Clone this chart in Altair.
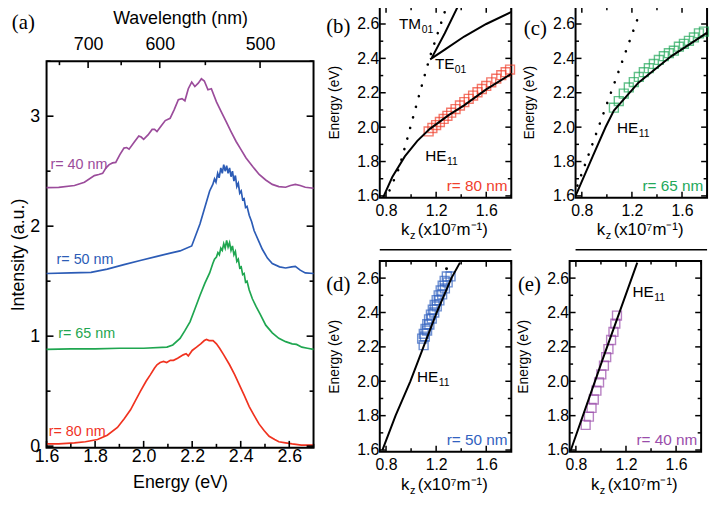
import altair as alt
import pandas as pd

HC = 1239.84  # eV*nm, converts energy to wavelength for the top axis
FONT = "Liberation Sans"
SERIF = "Liberation Serif"

# ---------------- panel (a): PL spectra (energy eV, intensity a.u.) ----------------
SPEC_40 = [(1.600, 2.350), (1.650, 2.352), (1.715, 2.370), (1.756, 2.400), (1.797, 2.460), (1.815, 2.470),
           (1.831, 2.480), (1.845, 2.530), (1.858, 2.560), (1.872, 2.575), (1.885, 2.580), (1.902, 2.650),
           (1.919, 2.710), (1.930, 2.715), (1.940, 2.700), (1.960, 2.760), (1.980, 2.820), (1.990, 2.810),
           (2.000, 2.790), (2.018, 2.830), (2.035, 2.880), (2.045, 2.880), (2.055, 2.860), (2.072, 2.910),
           (2.089, 2.960), (2.109, 2.980), (2.126, 3.060), (2.143, 3.150), (2.158, 3.160), (2.170, 3.140),
           (2.184, 3.250), (2.198, 3.310), (2.211, 3.270), (2.225, 3.300), (2.238, 3.340), (2.250, 3.320),
           (2.265, 3.240), (2.279, 3.250), (2.300, 3.130), (2.320, 3.040), (2.340, 2.950), (2.360, 2.860),
           (2.381, 2.770), (2.400, 2.700), (2.422, 2.620), (2.450, 2.540), (2.476, 2.470), (2.503, 2.420),
           (2.530, 2.380), (2.557, 2.360), (2.585, 2.354), (2.605, 2.370), (2.625, 2.380), (2.645, 2.370),
           (2.666, 2.354), (2.700, 2.345)]
SPEC_50 = [(1.600, 1.570), (1.700, 1.575), (1.783, 1.580), (1.850, 1.610), (1.919, 1.650), (1.990, 1.690),
           (2.055, 1.725), (2.110, 1.755), (2.150, 1.775), (2.198, 1.820), (2.215, 1.920), (2.232, 2.020),
           (2.252, 2.170), (2.272, 2.320), (2.285, 2.380), (2.292, 2.430), (2.298, 2.400), (2.305, 2.480),
           (2.311, 2.440), (2.318, 2.530), (2.324, 2.480), (2.330, 2.560), (2.336, 2.500), (2.342, 2.550),
           (2.348, 2.480), (2.354, 2.530), (2.360, 2.450), (2.366, 2.500), (2.372, 2.410), (2.378, 2.460),
           (2.384, 2.360), (2.390, 2.390), (2.396, 2.300), (2.402, 2.320), (2.408, 2.240), (2.414, 2.250),
           (2.420, 2.170), (2.426, 2.180), (2.435, 2.100), (2.445, 2.040), (2.455, 1.960), (2.463, 1.920),
           (2.475, 1.860), (2.489, 1.790), (2.510, 1.710), (2.530, 1.660), (2.560, 1.630), (2.585, 1.620),
           (2.610, 1.630), (2.625, 1.635), (2.645, 1.600), (2.666, 1.575), (2.700, 1.570)]
SPEC_65 = [(1.600, 0.880), (1.700, 0.885), (1.800, 0.885), (1.900, 0.890), (2.000, 0.890), (2.096, 0.900),
           (2.120, 0.920), (2.150, 0.980), (2.170, 1.050), (2.191, 1.130), (2.210, 1.240), (2.232, 1.370),
           (2.252, 1.480), (2.272, 1.575), (2.285, 1.660), (2.292, 1.700), (2.300, 1.720), (2.306, 1.760),
           (2.312, 1.740), (2.318, 1.800), (2.324, 1.780), (2.330, 1.840), (2.336, 1.800), (2.342, 1.870),
           (2.348, 1.810), (2.354, 1.850), (2.360, 1.780), (2.366, 1.820), (2.372, 1.740), (2.378, 1.770),
           (2.384, 1.680), (2.390, 1.700), (2.396, 1.620), (2.402, 1.630), (2.408, 1.560), (2.414, 1.570),
           (2.420, 1.490), (2.426, 1.500), (2.435, 1.420), (2.448, 1.340), (2.463, 1.270), (2.480, 1.200),
           (2.503, 1.100), (2.530, 1.030), (2.557, 0.980), (2.585, 0.950), (2.612, 0.930), (2.630, 0.925),
           (2.652, 0.900), (2.675, 0.890), (2.700, 0.880)]
SPEC_80 = [(1.600, 0.020), (1.650, 0.020), (1.715, 0.030), (1.760, 0.040), (1.810, 0.060), (1.850, 0.100),
           (1.892, 0.170), (1.920, 0.250), (1.946, 0.330), (1.965, 0.410), (1.987, 0.500), (2.010, 0.590),
           (2.028, 0.650), (2.045, 0.710), (2.055, 0.740), (2.068, 0.760), (2.082, 0.770), (2.095, 0.760),
           (2.110, 0.780), (2.123, 0.780), (2.140, 0.800), (2.155, 0.820), (2.163, 0.830), (2.175, 0.840),
           (2.184, 0.820), (2.200, 0.870), (2.218, 0.900), (2.235, 0.930), (2.250, 0.960), (2.259, 0.970),
           (2.270, 0.960), (2.286, 0.960), (2.300, 0.930), (2.313, 0.890), (2.330, 0.830), (2.354, 0.740),
           (2.375, 0.650), (2.394, 0.560), (2.415, 0.460), (2.435, 0.360), (2.455, 0.280), (2.476, 0.200),
           (2.497, 0.140), (2.517, 0.090), (2.540, 0.060), (2.557, 0.040), (2.585, 0.030), (2.612, 0.020),
           (2.650, 0.010), (2.700, 0.010)]

SERIES = ["r= 40 nm", "r= 50 nm", "r= 65 nm", "r= 80 nm"]
COLORS = ["#9b4c9b", "#2c5cb6", "#1fa650", "#f0321f"]
SPECTRA = [SPEC_40, SPEC_50, SPEC_65, SPEC_80]

A_LABEL_E = [1.616, 1.641, 1.648, 1.609]
A_LABEL_I = [2.552, 1.695, 1.022, 0.130]

A_X_DOMAIN = [1.6, 2.7]
A_Y_DOMAIN = [-0.015, 3.5]
A_X_MAJOR = [1.6, 1.8, 2.0, 2.2, 2.4, 2.6]
A_X_MINOR = [1.7, 1.9, 2.1, 2.3, 2.5, 2.7]
A_Y_MAJOR = [0, 1, 2, 3]
A_Y_MINOR = [0.5, 1.5, 2.5, 3.5]
WL_MAJOR = [700, 600, 500]
WL_MINOR = [750, 650, 550]
A_LETTER = (1.457, 3.85)

# ---------------- panels (b)-(e): dispersion (kz 1e7/m, energy eV) ----------------
S_X_DOMAIN = [0.75, 1.8]
S_Y_DOMAIN = [1.59, 2.70]
S_X_MAJOR = [0.8, 1.2, 1.6]
S_X_MINOR = [1.0, 1.4, 1.8]
S_Y_MAJOR = [1.6, 1.8, 2.0, 2.2, 2.4, 2.6]
S_Y_MINOR = [1.7, 1.9, 2.1, 2.3, 2.5, 2.7]

# (b) r = 80 nm
B_HE11 = [(0.776, 1.59), (0.85, 1.71), (0.95, 1.83), (1.05, 1.92), (1.15, 1.99), (1.30, 2.07),
          (1.42, 2.125), (1.60, 2.22), (1.80, 2.31)]
B_TE01 = [(1.152, 2.394), (1.269, 2.451), (1.424, 2.527), (1.60, 2.60), (1.80, 2.67)]
B_TM01 = [(1.165, 2.403), (1.269, 2.546), (1.372, 2.70)]
B_LIGHT = [(0.828, 1.632), (0.906, 1.766), (0.971, 1.937), (1.035, 2.109), (1.10, 2.28),
           (1.152, 2.413), (1.204, 2.527), (1.256, 2.642), (1.282, 2.70)]
B_SQ = [(1.14, 1.975), (1.17, 1.995), (1.20, 2.012), (1.23, 2.030), (1.26, 2.048), (1.29, 2.066),
        (1.32, 2.084), (1.355, 2.105), (1.39, 2.126), (1.425, 2.146), (1.46, 2.165), (1.495, 2.184),
        (1.53, 2.203), (1.565, 2.222), (1.60, 2.240), (1.64, 2.261), (1.68, 2.282), (1.72, 2.302),
        (1.755, 2.320), (1.79, 2.335)]
B_MODES = [("TM", "01", 0.903, 2.60, 23), ("TE", "01", 1.191, 2.365, 20), ("HE", "11", 1.113, 1.83, 22)]

# (c) r = 65 nm
C_HE11 = [(0.75, 1.60), (0.886, 1.829), (0.99, 2.001), (1.056, 2.097), (1.252, 2.259), (1.513, 2.412),
          (1.774, 2.537), (1.80, 2.55)]
C_LIGHT = [(0.765, 1.66), (1.27, 2.68)]
C_SQ = [(1.056, 2.113), (1.095, 2.152), (1.135, 2.195), (1.175, 2.231), (1.215, 2.262), (1.255, 2.292),
        (1.295, 2.320), (1.335, 2.343), (1.375, 2.368), (1.415, 2.391), (1.455, 2.413), (1.495, 2.430),
        (1.535, 2.445), (1.575, 2.468), (1.615, 2.485), (1.655, 2.502), (1.695, 2.522), (1.735, 2.546),
        (1.775, 2.556)]
C_MODES = [("HE", "11", 1.081, 1.997, 22)]

# (d) r = 50 nm
D_HE11 = [(0.771, 1.60), (0.876, 1.80), (0.994, 2.00), (1.099, 2.20), (1.204, 2.40), (1.322, 2.60),
          (1.39, 2.69)]
D_SQ = [(1.100, 2.21), (1.088, 2.248), (1.101, 2.276), (1.115, 2.304), (1.129, 2.332), (1.143, 2.36),
        (1.158, 2.388), (1.173, 2.416), (1.188, 2.444), (1.204, 2.472), (1.220, 2.50), (1.236, 2.528),
        (1.252, 2.556), (1.268, 2.584), (1.285, 2.61), (1.110, 2.26), (1.128, 2.295), (1.146, 2.33),
        (1.165, 2.365), (1.185, 2.40), (1.205, 2.435), (1.226, 2.47), (1.248, 2.505), (1.270, 2.54),
        (1.292, 2.575), (1.315, 2.61)]
D_DOT = [(1.283, 2.655)]
D_MODES = [("HE", "11", 1.047, 2.025, 22)]

# (e) r = 40 nm
E_HE11 = [(0.755, 1.59), (1.02, 2.14), (1.29, 2.69)]
E_SQ = [(0.878, 1.746), (0.904, 1.794), (0.925, 1.845), (0.943, 1.894), (0.964, 1.945), (0.985, 1.993),
        (1.003, 2.040), (1.024, 2.091), (1.042, 2.141), (1.060, 2.187), (1.081, 2.240), (1.100, 2.287),
        (1.115, 2.335), (1.128, 2.382)]
E_MODES = [("HE", "11", 1.252, 2.516, 22)]

SQ_COLORS = {"b": "#f0402c", "c": "#22a85a", "d": "#3262c0", "e": "#9a4caa"}
R_TEXT = {"b": "r= 80 nm", "c": "r= 65 nm", "d": "r= 50 nm", "e": "r= 40 nm"}
R_POS = (1.77, 1.66)
LETTER_POS = {"b": (0.322, 2.585), "c": (0.337, 2.57), "d": (0.322, 2.56), "e": (0.337, 2.562)}
XTITLE_POS = (1.275, 1.37)
RULE_E = 1.287

W_A, H_A = 270, 391
W_S, H_S = 133, 193
SPACER_H = 1
TOP_PAD = -11


def df_pairs(pairs, xname, yname):
    return pd.DataFrame({xname: [p[0] for p in pairs], yname: [p[1] for p in pairs]})


def label_axis(orient, values, **kw):
    return alt.Axis(orient=orient, values=values, ticks=False, zindex=2, minExtent=0, **kw)


def rule(d, width, **enc):
    return alt.Chart(d).mark_rule(color="black", strokeWidth=width).encode(**enc)


def tick_marks(xscale, yscale, w, h, x_sets, y_sets, width=1.6, top_ticks=True):
    """Inward-pointing tick marks on the frame, placed at the tick values via the scales."""
    out = []
    for vals, ln in x_sets:
        d = pd.DataFrame({"v": vals})
        xenc = alt.X("v:Q", scale=xscale, axis=None)
        out.append(rule(d, width, x=xenc, y=alt.value(h), y2=alt.value(h - ln)))
        if top_ticks:
            out.append(rule(d, width, x=xenc, y=alt.value(0), y2=alt.value(ln)))
    for vals, ln in y_sets:
        d = pd.DataFrame({"v": vals})
        yenc = alt.Y("v:Q", scale=yscale, axis=None)
        out.append(rule(d, width, y=yenc, x=alt.value(0), x2=alt.value(ln)))
        out.append(rule(d, width, y=yenc, x=alt.value(w), x2=alt.value(w - ln)))
    return out


# ---------------- build panel (a) ----------------
rows = []
for name, spec in zip(SERIES, SPECTRA):
    for e, i in spec:
        rows.append({"E": e, "I": i, "series": name})
df_a = pd.DataFrame(rows)
df_a_lab = pd.DataFrame({"E": A_LABEL_E, "I": A_LABEL_I, "series": SERIES})
df_a_letter = pd.DataFrame({"E": [A_LETTER[0]], "I": [A_LETTER[1]], "t": ["(a)"]})

AX = alt.Scale(domain=A_X_DOMAIN, nice=False, zero=False)
AY = alt.Scale(domain=A_Y_DOMAIN, nice=False, zero=False)
CS = alt.Scale(domain=SERIES, range=COLORS)

ax_a_bottom = label_axis("bottom", A_X_MAJOR, format=".1f", labelPadding=0, labelFontSize=18,
                         title="Energy (eV)", titleFontSize=18, titlePadding=8)
ax_a_left = label_axis("left", A_Y_MAJOR, format=".0f", labelPadding=7, labelFontSize=18,
                       title="Intensity (a.u.)", titleFontSize=18, titlePadding=2)
ax_a_top = label_axis("top", [HC / w for w in WL_MAJOR],
                      labelExpr=f"format(round({HC}/datum.value), 'd')", labelPadding=8,
                      labelFontSize=18, title="Wavelength (nm)", titleFontSize=18, titlePadding=8)

a_layers = [
    alt.Chart(df_a).mark_line(strokeWidth=1.7).encode(
        x=alt.X("E:Q", scale=AX, axis=ax_a_bottom),
        y=alt.Y("I:Q", scale=AY, axis=ax_a_left),
        color=alt.Color("series:N", scale=CS, legend=None)),
    alt.Chart(df_a).mark_point(opacity=0).encode(
        x=alt.X("E:Q", scale=AX, axis=ax_a_top),
        y=alt.Y("I:Q", scale=AY, axis=None)),
]
a_layers += tick_marks(AX, AY, W_A, H_A, [(A_X_MAJOR, 7), (A_X_MINOR, 4)],
                       [(A_Y_MAJOR, 7), (A_Y_MINOR, 4)], top_ticks=False)
# wavelength ticks along the top edge (energies computed from wavelengths)
for wl, ln in ((WL_MAJOR, 7), (WL_MINOR, 4)):
    a_layers.append(rule(pd.DataFrame({"v": [HC / w for w in wl]}), 1.6,
                         x=alt.X("v:Q", scale=AX, axis=None), y=alt.value(0), y2=alt.value(ln)))
a_layers.append(alt.Chart(df_a_lab).mark_text(align="left", baseline="middle", fontSize=14.5, font=FONT).encode(
    x=alt.X("E:Q", scale=AX, axis=None),
    y=alt.Y("I:Q", scale=AY, axis=None),
    text="series:N",
    color=alt.Color("series:N", scale=CS, legend=None),
))
a_layers.append(alt.Chart(df_a_letter).mark_text(align="left", baseline="middle", fontSize=21, font=SERIF,
                                                 color="black").encode(
    x=alt.X("E:Q", scale=AX, axis=None),
    y=alt.Y("I:Q", scale=AY, axis=None),
    text="t:N",
))
panel_a = alt.layer(*a_layers).resolve_axis(x="independent", y="independent").properties(
    width=W_A, height=H_A)

# invisible spacer so that panel (a) can sit lower than panel (b)
spacer = alt.Chart(pd.DataFrame({"v": [0]})).mark_rect(opacity=0).encode(
    x=alt.value(0), x2=alt.value(1), y=alt.value(0), y2=alt.value(1)).properties(
    width=1, height=SPACER_H, view=alt.ViewBackground(stroke="transparent"))

# ---------------- build small panels ----------------
SX = alt.Scale(domain=S_X_DOMAIN, nice=False, zero=False)
SY = alt.Scale(domain=S_Y_DOMAIN, nice=False, zero=False)

ax_s_bottom = label_axis("bottom", S_X_MAJOR, format=".1f", labelPadding=5, labelFontSize=16, title=None)
ax_s_left = label_axis("left", S_Y_MAJOR, format=".1f", labelPadding=1, labelFontSize=16,
                       title="Energy (eV)", titleFontSize=14, titlePadding=16)


def xy(axx=None, axy=None):
    return dict(x=alt.X("k:Q", scale=SX, axis=axx), y=alt.Y("E:Q", scale=SY, axis=axy))


def text_layer(k, e, txt, size, color="black", align="left", dx=0, dy=0, font=FONT, baseline="middle"):
    d = pd.DataFrame({"k": [k], "E": [e], "t": [txt]})
    return alt.Chart(d).mark_text(align=align, baseline=baseline, fontSize=size, font=font,
                                  color=color, dx=dx, dy=dy).encode(text="t:N", **xy())


def small_panel(key, curves, light, squares, modes, dots=None, rule_line=False):
    base = df_pairs(curves[0], "k", "E")
    layers = [alt.Chart(base).mark_point(opacity=0).encode(**xy(ax_s_bottom, ax_s_left))]
    layers += tick_marks(SX, SY, W_S, H_S, [(S_X_MAJOR, 6), (S_X_MINOR, 3.5)],
                         [(S_Y_MAJOR, 6), (S_Y_MINOR, 3.5)], width=1.5)
    layers.append(alt.Chart(df_pairs(squares, "k", "E")).mark_square(
        filled=False, size=81, strokeWidth=1.4, color=SQ_COLORS[key]).encode(**xy()))
    if light is not None:
        layers.append(alt.Chart(df_pairs(light, "k", "E")).mark_line(
            color="black", strokeWidth=2.6, strokeCap="round", strokeDash=[0.1, 11]).encode(**xy()))
    for c in curves:
        layers.append(alt.Chart(df_pairs(c, "k", "E")).mark_line(
            color="black", strokeWidth=2).encode(**xy()))
    if dots is not None:
        layers.append(alt.Chart(df_pairs(dots, "k", "E")).mark_circle(
            color="black", size=9, opacity=1).encode(**xy()))
    for main, sub, k, e, dxs in modes:
        layers.append(text_layer(k, e, main, 15.5))
        layers.append(text_layer(k, e, sub, 10.5, dx=dxs, dy=6))
    layers.append(text_layer(R_POS[0], R_POS[1], R_TEXT[key], 15.5, color=SQ_COLORS[key], align="right"))
    lx, ly = LETTER_POS[key]
    layers.append(text_layer(lx, ly, f"({key})", 21, font=SERIF))
    tx, ty = XTITLE_POS
    layers.append(text_layer(tx, ty, "k", 17, dx=-45, baseline="alphabetic"))
    layers.append(text_layer(tx, ty, "z", 11, dx=-36, dy=4, baseline="alphabetic"))
    layers.append(text_layer(tx, ty, "(x10\u2077m\u207b\u00b9)", 17, dx=-28, baseline="alphabetic"))
    if rule_line:
        layers.append(rule(pd.DataFrame({"E": [RULE_E]}), 1.5,
                           y=alt.Y("E:Q", scale=SY, axis=None), x=alt.value(0), x2=alt.value(W_S)))
    return alt.layer(*layers).resolve_axis(x="independent", y="independent").properties(
        width=W_S, height=H_S)


panel_b = small_panel("b", [B_HE11, B_TE01, B_TM01], B_LIGHT, B_SQ, B_MODES, rule_line=True)
panel_c = small_panel("c", [C_HE11], C_LIGHT, C_SQ, C_MODES, rule_line=True)
panel_d = small_panel("d", [D_HE11], None, D_SQ, D_MODES, dots=D_DOT)
panel_e = small_panel("e", [E_HE11], None, E_SQ, E_MODES)

left = alt.vconcat(spacer, panel_a, spacing=0)
right = alt.vconcat(alt.hconcat(panel_b, panel_c, spacing=2),
                    alt.hconcat(panel_d, panel_e, spacing=2), spacing=5)
chart = alt.hconcat(left, right, spacing=6).properties(
    padding={"left": 0, "top": TOP_PAD, "right": 0, "bottom": 0}
).configure_view(stroke="black", strokeWidth=2).configure_axis(
    grid=False, domain=False, labelColor="black",
    titleColor="black", labelFont=FONT, titleFont=FONT, titleFontWeight="normal",
    labelFlush=False, labelOverlap=False)

chart.save("out.html", embed_options={"renderer": "svg", "actions": False})
